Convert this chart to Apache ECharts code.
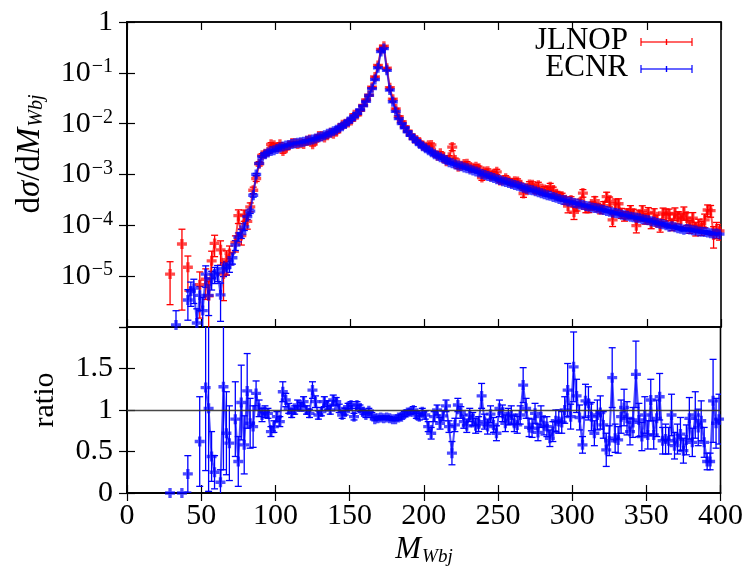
<!DOCTYPE html>
<html><head><meta charset="utf-8">
<script src="https://cdn.jsdelivr.net/npm/echarts@6/dist/echarts.min.js"></script>
<style>html,body{margin:0;padding:0;background:#fff}#c{width:746px;height:568px}</style>
</head><body><div id="c"></div>
<script>
// bin centres of M_Wbj (GeV)
const mass = [29,31,33,35,37,39,41,43,45,47, 49,51,53,55,57,59,61,63,65,67, 69,71,73,75,77,79,81,83,85,87,
 89,91,93,95,97,99,101,103,105,107, 109,111,113,115,117,119,121,123,125,127, 129,131,133,135,137,139,141,143,145,147,
 149,151,153,155,157,159,161,163,165,167, 169,171,173,175,177,179,181,183,185,187, 189,191,193,195,197,199,201,203,205,207,
 209,211,213,215,217,219,221,223,225,227, 229,231,233,235,237,239,241,243,245,247, 249,251,253,255,257,259,261,263,265,267,
 269,271,273,275,277,279,281,283,285,287, 289,291,293,295,297,299,301,303,305,307, 309,311,313,315,317,319,321,323,325,327,
 329,331,333,335,337,339,341,343,345,347, 349,351,353,355,357,359,361,363,365,367, 369,371,373,375,377,379,381,383,385,387,
 389,391,393,395,397,399];

// JLNOP: dsigma/dM
const jlnop = [1.1e-5,null,null,null,4.3e-5,null,1.5e-5,null,null,null,
 6.8e-6,null,8.7e-6,4.1e-6,2.0e-5,4.4e-5,null,3.3e-5,1.1e-5,2.1e-5,
 2.8e-5,null,4.6e-5,1.55e-4,6.3e-5,1.6e-4,1.2e-4,2.3e-4,4.9e-4,8.3e-4,
 1.63e-3,2.38e-3,2.55e-3,2.81e-3,3.92e-3,3.75e-3,3.43e-3,3.95e-3,2.91e-3,3.30e-3,
 3.73e-3,4.17e-3,4.1e-3,3.96e-3,4.13e-3,4.0e-3,4.6e-3,4.9e-3,3.95e-3,4.64e-3,
 5.74e-3,5.71e-3,5.36e-3,5.94e-3,6.6e-3,6.34e-3,6.91e-3,8.14e-3,9.47e-3,1.0e-2,
 1.06e-2,1.16e-2,1.5e-2,1.49e-2,1.82e-2,2.29e-2,2.93e-2,3.64e-2,5.21e-2,8.31e-2,
 0.140,0.289,0.333,0.123,5.11e-2,3.03e-2,1.96e-2,1.38e-2,1.09e-2,8.74e-3,
 7.11e-3,6.02e-3,5.1e-3,4.79e-3,4.35e-3,3.67e-3,3.51e-3,3.75e-3,3.82e-3,2.72e-3,
 2.34e-3,2.61e-3,2.19e-3,1.82e-3,2.18e-3,3.46e-3,1.93e-3,1.42e-3,1.49e-3,1.60e-3,
 1.63e-3,1.34e-3,1.35e-3,1.42e-3,1.33e-3,8.72e-4,1.14e-3,1.16e-3,9.37e-4,1.04e-3,
 1.13e-3,7.65e-4,7.71e-4,8.45e-4,7.39e-4,6.91e-4,7.38e-4,7.32e-4,6.12e-4,4.23e-4,
 5.15e-4,6.33e-4,6.28e-4,4.9e-4,6.16e-4,4.67e-4,5.06e-4,4.88e-4,5.76e-4,4.86e-4,
 4.02e-4,3.84e-4,3.72e-4,3.1e-4,2.38e-4,3.15e-4,1.81e-4,2.31e-4,2.82e-4,4.31e-4,
 2.16e-4,2.17e-4,2.43e-4,3.04e-4,2.28e-4,2.1e-4,2.44e-4,3.67e-4,2.95e-4,1.28e-4,
 2.64e-4,2.66e-4,1.76e-4,1.53e-4,1.72e-4,2.0e-4,1.71e-4,9.86e-5,1.57e-4,1.94e-4,
 1.37e-4,1.8e-4,1.1e-4,1.71e-4,1.28e-4,9.66e-5,1.75e-4,1.65e-4,1.67e-4,1.06e-4,
 1.72e-4,1.46e-4,1.31e-4,1.78e-4,1.39e-4,9.67e-5,1.39e-4,8.83e-5,1.03e-4,9.08e-5,
 1.28e-4,2.0e-4,1.95e-4,6.49e-5,8.45e-5,7.75e-5];
// JLNOP relative uncertainty
const jlnopErr = [0.75,null,null,null,0.95,null,0.66,null,null,null,
 0.78,null,0.6,0.9,0.55,0.45,null,0.5,0.7,0.5,
 0.4,null,0.35,0.3,0.35,0.25,0.3,0.2,0.15,0.12,
 0.1,0.08,0.07,0.06,0.08,0.08,0.07,0.07,0.1,0.07,
 0.06,0.05,0.05,0.06,0.05,0.05,0.05,0.05,0.08,0.06,
 0.05,0.05,0.05,0.05,0.05,0.05,0.05,0.05,0.04,0.04,
 0.04,0.04,0.04,0.04,0.04,0.03,0.03,0.03,0.03,0.02,
 0.02,0.02,0.02,0.02,0.02,0.02,0.02,0.03,0.03,0.03,
 0.03,0.03,0.04,0.04,0.04,0.04,0.05,0.07,0.09,0.06,
 0.06,0.08,0.06,0.07,0.08,0.15,0.09,0.08,0.07,0.09,
 0.1,0.08,0.09,0.1,0.1,0.12,0.1,0.11,0.1,0.11,
 0.12,0.1,0.1,0.12,0.11,0.11,0.12,0.12,0.11,0.16,
 0.12,0.14,0.14,0.12,0.14,0.14,0.14,0.15,0.16,0.16,
 0.15,0.16,0.15,0.16,0.26,0.16,0.28,0.17,0.16,0.17,
 0.18,0.18,0.18,0.2,0.19,0.2,0.2,0.22,0.22,0.26,
 0.25,0.25,0.22,0.21,0.22,0.22,0.21,0.28,0.23,0.25,
 0.23,0.24,0.22,0.24,0.24,0.24,0.25,0.27,0.25,0.26,
 0.28,0.27,0.28,0.29,0.28,0.28,0.28,0.3,0.28,0.3,
 0.3,0.26,0.26,0.45,0.35,0.34];

// ECNR: dsigma/dM
const ecnr = [null,null,1.1e-6,null,null,null,3.4e-6,5.1e-6,5.8e-6,1.2e-6,
 4.2e-6,2.1e-6,1.1e-5,4.2e-6,8.9e-6,1.1e-5,1.2e-5,4.3e-6,1.4e-5,1.5e-5,
 1.7e-5,2.3e-5,4.1e-5,5.9e-5,6.9e-5,9.3e-5,1.48e-4,1.9e-4,3.9e-4,1.0e-3,
 1.66e-3,2.24e-3,2.5e-3,2.7e-3,2.9e-3,3.0e-3,3.16e-3,3.4e-3,3.55e-3,3.7e-3,
 3.8e-3,4.0e-3,4.1e-3,4.2e-3,4.3e-3,4.4e-3,4.6e-3,4.7e-3,4.9e-3,5.1e-3,
 5.4e-3,5.6e-3,5.9e-3,6.3e-3,6.6e-3,7.1e-3,7.6e-3,8.3e-3,8.9e-3,9.8e-3,
 1.10e-2,1.23e-2,1.38e-2,1.58e-2,1.86e-2,2.24e-2,2.75e-2,3.6e-2,4.9e-2,7.4e-2,
 0.126,0.263,0.30,0.112,4.6e-2,2.7e-2,1.74e-2,1.26e-2,1.0e-2,8.3e-3,
 6.9e-3,5.9e-3,5.1e-3,4.5e-3,4.0e-3,3.6e-3,3.3e-3,3.0e-3,2.75e-3,2.5e-3,
 2.34e-3,2.19e-3,2.04e-3,1.91e-3,1.74e-3,1.66e-3,1.58e-3,1.51e-3,1.45e-3,1.38e-3,
 1.32e-3,1.26e-3,1.20e-3,1.15e-3,1.10e-3,1.02e-3,9.8e-4,9.3e-4,8.9e-4,8.5e-4,
 8.1e-4,7.8e-4,7.4e-4,7.1e-4,6.8e-4,6.5e-4,6.2e-4,6.0e-4,5.75e-4,5.5e-4,
 5.25e-4,5.0e-4,4.9e-4,4.7e-4,4.5e-4,4.3e-4,4.1e-4,3.9e-4,3.8e-4,3.6e-4,
 3.5e-4,3.3e-4,3.16e-4,3.1e-4,2.95e-4,2.9e-4,2.75e-4,2.7e-4,2.57e-4,2.5e-4,
 2.4e-4,2.34e-4,2.24e-4,2.19e-4,2.14e-4,2.04e-4,2.0e-4,1.91e-4,1.86e-4,1.78e-4,
 1.74e-4,1.70e-4,1.62e-4,1.58e-4,1.55e-4,1.48e-4,1.45e-4,1.41e-4,1.38e-4,1.32e-4,
 1.29e-4,1.26e-4,1.20e-4,1.17e-4,1.11e-4,1.08e-4,1.05e-4,1.0e-4,9.4e-5,9.6e-5,
 9.2e-5,8.8e-5,8.6e-5,8.2e-5,8.5e-5,8.3e-5,8.0e-5,7.9e-5,7.6e-5,7.5e-5,
 7.4e-5,7.2e-5,7.0e-5,6.8e-5,6.9e-5,6.7e-5];
// ECNR relative uncertainty
const ecnrErr = [null,null,0.9,null,null,null,0.6,0.5,0.5,0.9,
 0.5,0.8,0.45,0.6,0.4,0.35,0.35,0.7,0.3,0.3,
 0.3,0.25,0.22,0.2,0.2,0.15,0.12,0.1,0.08,0.05,
 0.04,0.03,0.03,0.03,0.03,0.03,0.03,0.03,0.03,0.03,
 0.03,0.03,0.03,0.03,0.03,0.03,0.03,0.03,0.03,0.03,
 0.03,0.03,0.03,0.03,0.03,0.03,0.03,0.03,0.03,0.03,
 0.03,0.03,0.03,0.03,0.02,0.02,0.02,0.02,0.02,0.02,
 0.02,0.02,0.02,0.02,0.02,0.02,0.02,0.02,0.03,0.03,
 0.03,0.03,0.03,0.03,0.03,0.03,0.03,0.03,0.03,0.03,
 0.03,0.03,0.03,0.03,0.03,0.03,0.03,0.03,0.03,0.03,
 0.03,0.03,0.03,0.03,0.03,0.03,0.03,0.03,0.03,0.03,
 0.04,0.04,0.04,0.04,0.04,0.04,0.04,0.04,0.04,0.04,
 0.04,0.04,0.04,0.04,0.04,0.04,0.04,0.04,0.04,0.04,
 0.04,0.04,0.04,0.04,0.04,0.04,0.04,0.04,0.04,0.04,
 0.05,0.05,0.05,0.05,0.05,0.05,0.05,0.05,0.05,0.05,
 0.05,0.05,0.05,0.05,0.05,0.05,0.05,0.05,0.05,0.05,
 0.06,0.06,0.06,0.06,0.06,0.06,0.06,0.06,0.06,0.06,
 0.06,0.06,0.06,0.06,0.06,0.06,0.06,0.06,0.06,0.06,
 0.07,0.07,0.07,0.07,0.07,0.07];

// ratio ECNR / JLNOP
const ratio = [0,null,null,null,0,null,0.23,null,null,null,
 0.62,null,1.27,1.02,0.44,0.25,null,0.13,1.28,0.72,
 0.60,null,0.89,0.38,1.09,0.58,1.23,0.84,0.80,1.20,
 1.02,0.94,0.98,0.96,0.74,0.80,0.92,0.86,1.22,1.12,
 1.02,0.96,1.0,1.06,1.04,1.10,1.0,0.96,1.24,1.10,
 0.94,0.98,1.10,1.06,1.0,1.12,1.10,1.02,0.94,0.98,
 1.04,1.06,0.92,1.06,1.02,0.98,0.94,0.99,0.94,0.89,
 0.90,0.91,0.90,0.91,0.90,0.89,0.89,0.91,0.92,0.95,
 0.97,0.98,1.0,0.94,0.92,0.98,0.94,0.80,0.72,0.92,
 1.0,0.84,0.93,1.05,0.80,0.48,0.82,1.06,0.97,0.86,
 0.81,0.94,0.89,0.81,0.83,1.17,0.86,0.80,0.95,0.82,
 0.72,1.02,0.96,0.84,0.92,0.94,0.84,0.82,0.94,1.30,
 1.02,0.79,0.78,0.96,0.73,0.92,0.81,0.80,0.66,0.74,
 0.87,0.86,0.85,1.0,1.24,0.92,1.52,1.17,0.91,0.58,
 1.11,1.08,0.92,0.72,0.94,0.97,0.82,0.52,0.63,1.39,
 0.66,0.64,0.92,1.03,0.90,0.74,0.85,1.43,0.88,0.68,
 0.94,0.70,1.12,0.70,0.90,1.16,0.63,0.65,0.63,0.94,
 0.57,0.65,0.71,0.51,0.64,0.90,0.61,0.94,0.79,0.87,
 0.61,0.38,0.38,1.11,0.84,0.89];
// ratio absolute uncertainty
const ratioErr = [0,null,null,null,0,null,0.22,null,null,null,
 0.54,null,1.0,1.0,0.3,0.2,null,0.15,1.0,0.5,
 0.45,null,0.45,0.3,0.45,0.35,0.45,0.3,0.25,0.15,
 0.1,0.08,0.07,0.06,0.06,0.07,0.06,0.06,0.12,0.08,
 0.06,0.05,0.05,0.06,0.05,0.06,0.05,0.05,0.1,0.07,
 0.05,0.05,0.06,0.05,0.05,0.06,0.05,0.05,0.04,0.04,
 0.04,0.04,0.04,0.04,0.04,0.03,0.03,0.03,0.03,0.02,
 0.02,0.02,0.02,0.02,0.02,0.02,0.02,0.03,0.03,0.03,
 0.03,0.03,0.04,0.04,0.04,0.04,0.05,0.06,0.07,0.06,
 0.06,0.07,0.06,0.07,0.07,0.14,0.08,0.08,0.07,0.08,
 0.08,0.08,0.08,0.09,0.09,0.15,0.09,0.09,0.1,0.09,
 0.09,0.1,0.1,0.1,0.1,0.11,0.1,0.1,0.11,0.21,
 0.12,0.11,0.11,0.12,0.1,0.13,0.11,0.12,0.1,0.12,
 0.13,0.14,0.13,0.16,0.32,0.15,0.42,0.2,0.15,0.1,
 0.2,0.2,0.17,0.15,0.18,0.2,0.16,0.2,0.18,0.36,
 0.17,0.16,0.2,0.22,0.2,0.16,0.18,0.4,0.2,0.17,
 0.22,0.17,0.25,0.17,0.22,0.28,0.16,0.18,0.16,0.25,
 0.16,0.18,0.2,0.15,0.18,0.25,0.17,0.28,0.22,0.24,
 0.18,0.1,0.1,0.5,0.3,0.3];

const yTicksTop = ['1','10^-1','10^-2','10^-3','10^-4','10^-5'];
const xTicks = ['0','50','100','150','200','250','300','350','400'];
const legendNames = ['JLNOP','ECNR'];

const FONT = 'Liberation Serif';
const RED = '#ff0000', BLUE = '#0000ff';
const chart = echarts.init(document.getElementById('c'), null, {renderer:'canvas'});

function linePts(vals){ return mass.map((m,i)=> [m, vals[i]==null ? '-' : vals[i]]); }
function errRel(vals, rel){
  const out=[];
  mass.forEach((m,i)=>{ if(vals[i]==null||rel[i]==null) return;
    const lo = vals[i]*(1-rel[i]); out.push([m, lo>0?lo:1e-9, vals[i]*(1+rel[i])]); });
  return out;
}
function errAbs(vals, e){
  const out=[];
  mass.forEach((m,i)=>{ if(vals[i]==null||e[i]==null) return;
    out.push([m, vals[i]-e[i], vals[i]+e[i]]); });
  return out;
}
function errRender(color){
  return function(params, api){
    const x=api.value(0), lo=api.value(1), hi=api.value(2);
    const a=api.coord([x,hi]), b=api.coord([x,lo]);
    const c=3.5, st={stroke:color, lineWidth:1.3};
    return {type:'group', children:[
      {type:'line', shape:{x1:a[0],y1:a[1],x2:b[0],y2:b[1]}, style:st},
      {type:'line', shape:{x1:a[0]-c,y1:a[1],x2:a[0]+c,y2:a[1]}, style:st},
      {type:'line', shape:{x1:b[0]-c,y1:b[1],x2:b[0]+c,y2:b[1]}, style:st}
    ]};
  };
}
const PLUS = 'path://M-1,-3L1,-3L1,-1L3,-1L3,1L1,1L1,3L-1,3L-1,1L-3,1L-3,-1L-1,-1Z';
function lineSeries(name, vals, color, xi, yi, extra){
  return Object.assign({type:'line', name, xAxisIndex:xi, yAxisIndex:yi, data:linePts(vals),
    symbol:PLUS, symbolSize:10, showSymbol:true, connectNulls:false, clip:true,
    lineStyle:{color, width:2, opacity:0.7},
    itemStyle:{color, opacity:0.7}, z:3, animation:false}, extra||{});
}
function errSeries(data, color, xi, yi){
  return {type:'custom', xAxisIndex:xi, yAxisIndex:yi, data, renderItem:errRender(color),
    encode:{x:0,y:[1,2]}, clip:true, z:2, animation:false, silent:true};
}

const labelFont = {fontFamily:FONT, fontSize:30, color:'#000'};
const tickStyle = {show:true, inside:true, length:8, lineStyle:{color:'#000', width:1.2}};
const axisLine = {show:true, lineStyle:{color:'#000', width:1.6}};

function supLabel(v){
  const e = Math.round(Math.log10(v));
  const txt = e===0 ? '1' : '10^' + e;
  if (yTicksTop.indexOf(txt) < 0) return '';
  if (e===0) return '{n|1}';
  return '{n|10}{s|\u2212' + (-e) + '}';
}

const option = {
  animation:false,
  backgroundColor:'#fff',
  grid:[
    {left:127, right:25, top:22, height:305, show:true, borderColor:'#000', borderWidth:1.6, backgroundColor:'transparent'},
    {left:127, right:25, top:327, height:166, show:true, borderColor:'#000', borderWidth:1.6, backgroundColor:'transparent'}
  ],
  xAxis:[
    {type:'value', gridIndex:0, min:0, max:400, interval:50, axisLabel:{show:false}, axisTick:tickStyle, axisLine, splitLine:{show:false}},
    {type:'value', gridIndex:0, position:'top', min:0, max:400, interval:50, axisLabel:{show:false}, axisTick:tickStyle, axisLine, splitLine:{show:false}},
    {type:'value', gridIndex:1, min:0, max:400, interval:50, axisTick:tickStyle, axisLine, splitLine:{show:false},
      axisLabel:Object.assign({margin:8, formatter:(v)=> xTicks.indexOf(String(v))>=0 ? String(v) : ''}, labelFont)},
    {type:'value', gridIndex:1, position:'top', min:0, max:400, interval:50, axisLabel:{show:false}, axisTick:tickStyle, axisLine, splitLine:{show:false}}
  ],
  yAxis:[
    {type:'log', gridIndex:0, logBase:10, min:1e-6, max:1, splitNumber:6, axisTick:tickStyle, axisLine, splitLine:{show:false}, minorTick:{show:false},
      axisLabel:{margin:14, showMinLabel:false, formatter:supLabel,
        rich:{n:{fontFamily:FONT, fontSize:30, color:'#000', lineHeight:32},
              s:{fontFamily:FONT, fontSize:20, color:'#000', verticalAlign:'top', lineHeight:20, padding:[0,0,14,1]}}}},
    {type:'log', gridIndex:0, position:'right', logBase:10, min:1e-6, max:1, splitNumber:6, axisTick:tickStyle, axisLine, splitLine:{show:false}, axisLabel:{show:false}},
    {type:'value', gridIndex:1, min:0, max:2, interval:0.5, axisTick:tickStyle, axisLine, splitLine:{show:false},
      axisLabel:Object.assign({margin:14, showMaxLabel:false}, labelFont)},
    {type:'value', gridIndex:1, position:'right', min:0, max:2, interval:0.5, axisTick:tickStyle, axisLine, splitLine:{show:false}, axisLabel:{show:false}}
  ],
  series:[
    errSeries(errRel(jlnop, jlnopErr), RED, 0, 0),
    lineSeries('JLNOP', jlnop, RED, 0, 0),
    errSeries(errRel(ecnr, ecnrErr), BLUE, 0, 0),
    lineSeries('ECNR', ecnr, BLUE, 0, 0, {z:4}),
    errSeries(errAbs(ratio, ratioErr), BLUE, 2, 2),
    lineSeries('ratio', ratio, BLUE, 2, 2, {markLine:{silent:true, symbol:'none', animation:false,
      label:{show:false}, lineStyle:{color:'#333', width:1.3, type:'solid', opacity:0.9}, data:[{yAxis:1}]}})
  ],
  graphic:[
    {type:'text', x:30, y:154, rotation:Math.PI/2, style:{
      text:'{r|d}{i|σ}{r|/d}{i|M}{sub|Wbj}', align:'center', verticalAlign:'middle',
      rich:{r:{fontFamily:FONT, fontSize:33, fill:'#000', lineHeight:34},
            i:{fontFamily:FONT, fontSize:33, fontStyle:'italic', fill:'#000', lineHeight:34},
            sub:{fontFamily:FONT, fontSize:20, fontStyle:'italic', fill:'#000', verticalAlign:'bottom', lineHeight:20, padding:[10,0,0,1]}}}},
    {type:'text', x:45, y:400, rotation:Math.PI/2, style:{text:'ratio', align:'center', verticalAlign:'middle',
      fontFamily:FONT, fontSize:30, fill:'#000'}},
    {type:'text', x:424, y:550, style:{
      text:'{i|M}{sub|Wbj}', align:'center', verticalAlign:'middle',
      rich:{i:{fontFamily:FONT, fontSize:31, fontStyle:'italic', fill:'#000', lineHeight:32},
            sub:{fontFamily:FONT, fontSize:19, fontStyle:'italic', fill:'#000', verticalAlign:'bottom', lineHeight:19, padding:[10,0,0,1]}}}},
    {type:'text', x:628, y:41, style:{text:legendNames[0], align:'right', verticalAlign:'middle', fontFamily:FONT, fontSize:31, fill:'#000'}},
    {type:'text', x:628, y:68, style:{text:legendNames[1], align:'right', verticalAlign:'middle', fontFamily:FONT, fontSize:31, fill:'#000'}},
    {type:'group', children:[
      {type:'line', shape:{x1:641,y1:42,x2:692,y2:42}, style:{stroke:RED, lineWidth:1.4, opacity:0.8}},
      {type:'line', shape:{x1:641,y1:38,x2:641,y2:46}, style:{stroke:RED, lineWidth:1.2}},
      {type:'line', shape:{x1:692,y1:38,x2:692,y2:46}, style:{stroke:RED, lineWidth:1.2}},
      {type:'line', shape:{x1:666.5,y1:39,x2:666.5,y2:45}, style:{stroke:RED, lineWidth:1.4}},
      {type:'line', shape:{x1:641,y1:69,x2:692,y2:69}, style:{stroke:BLUE, lineWidth:1.4, opacity:0.8}},
      {type:'line', shape:{x1:641,y1:65,x2:641,y2:73}, style:{stroke:BLUE, lineWidth:1.2}},
      {type:'line', shape:{x1:692,y1:65,x2:692,y2:73}, style:{stroke:BLUE, lineWidth:1.2}},
      {type:'line', shape:{x1:666.5,y1:66,x2:666.5,y2:72}, style:{stroke:BLUE, lineWidth:1.4}}
    ]}
  ]
};
chart.setOption(option);
</script>
</body></html>
